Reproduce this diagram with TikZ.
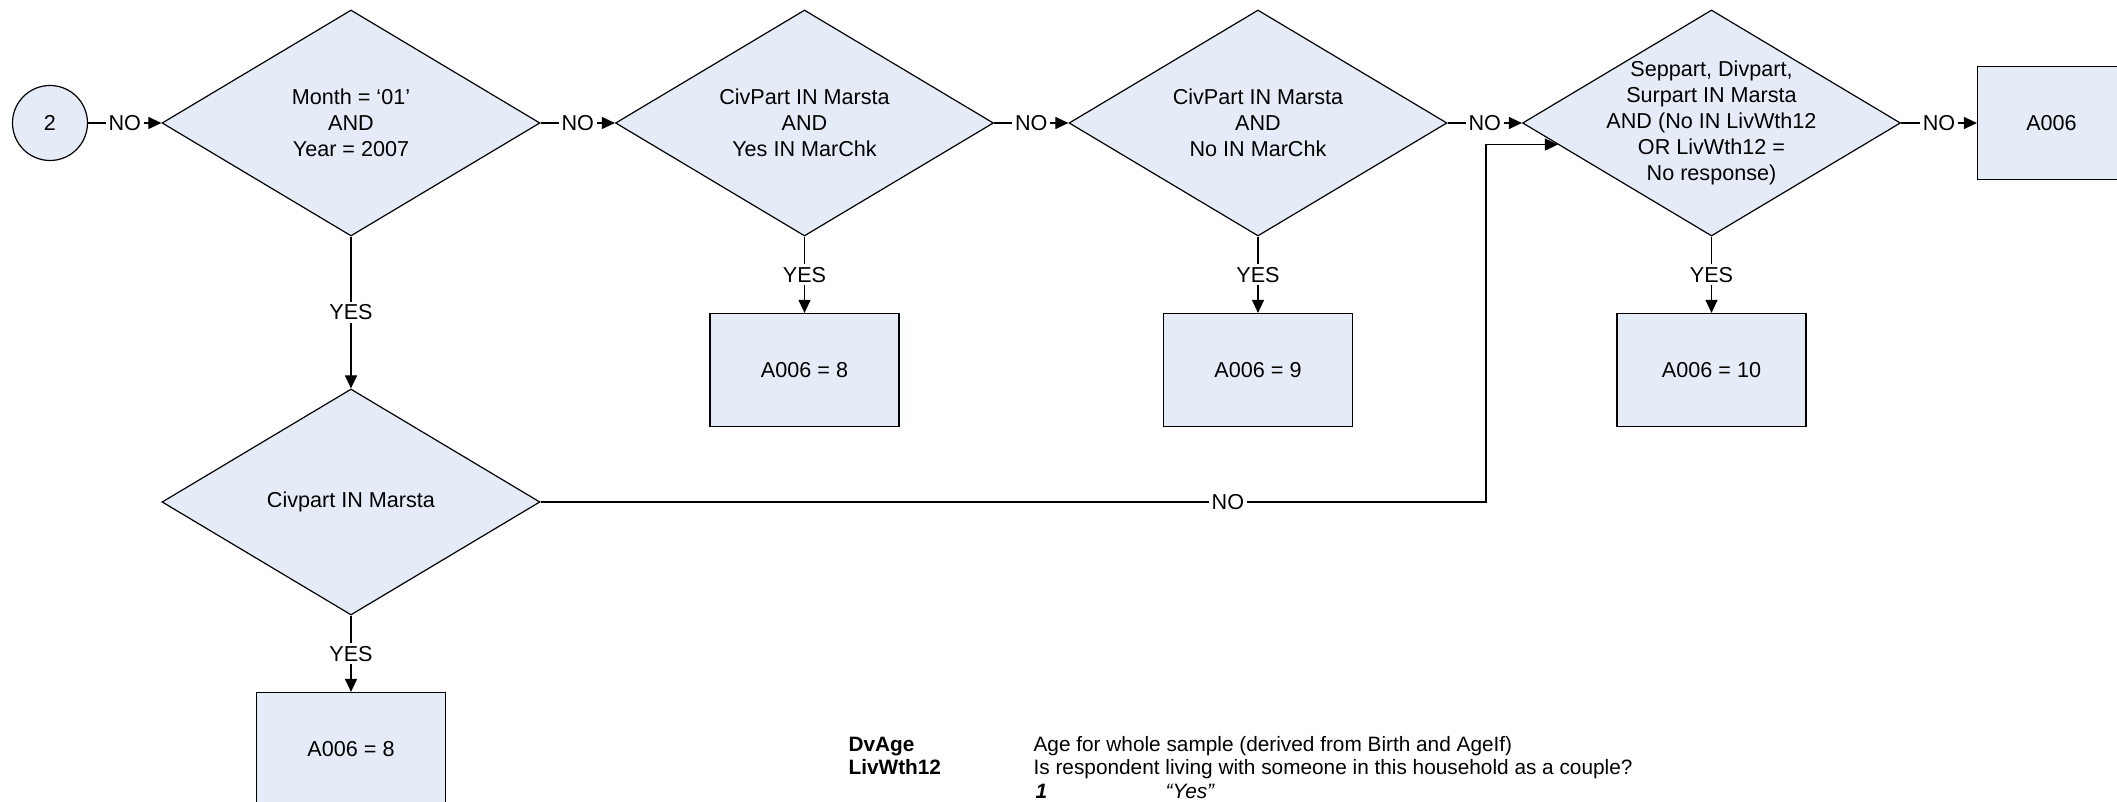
\documentclass[tikz,border=0pt]{standalone}
\usepackage{fontspec}
\setmainfont{Liberation Sans}
\usetikzlibrary{shapes.geometric,positioning,arrows.meta}

\definecolor{qfill}{RGB}{230,236,247}

\begin{document}
\begin{tikzpicture}[x=0.5pt, y=-0.5pt, line width=0.6pt,
    >={Triangle[length=6.5pt, width=6pt]},
    node distance=226.75pt, on grid,
    font=\fontsize{10.8}{13}\selectfont,
    decision/.style={diamond, draw, fill=qfill, minimum width=189pt, minimum height=113pt, inner sep=0pt},
    outcome/.style={rectangle, draw, fill=qfill, minimum width=94.5pt, minimum height=56.5pt},
    start/.style={circle, draw, fill=qfill, minimum size=37.5pt, inner sep=0pt},
    lbl/.style={fill=white, inner sep=1.5pt},
    key/.style={anchor=base west, inner sep=0pt, font=\fontsize{10.4}{12}\selectfont}]
  \useasboundingbox (0,0) rectangle (2117,802);

  \node[start] (c2) at (50,123) {2};
  \node[decision, right=150.5pt of c2] (d1) {};
  \node[decision, right=of d1] (d2) {};
  \node[decision, right=of d2] (d3) {};
  \node[decision, right=of d3] (d4) {};
  \node[outcome, minimum width=74pt, right=170pt of d4] (a006) {A006};
  \node[decision, below=189.5pt of d1] (d5) {};

  % question texts
  \node[align=center] at (d1) {Month = ‘01’\\AND\\Year = 2007};
  \node[align=center] at (d2) {CivPart IN Marsta\\AND\\Yes IN MarChk};
  \node[align=center] at (d3) {CivPart IN Marsta\\AND\\No IN MarChk};
  \node[align=center] at (d4) {Seppart, Divpart,\\Surpart IN Marsta\\AND (No IN LivWth12\\OR LivWth12 =\\No response)};
  \node at (d5) {Civpart IN Marsta};

  % outcomes
  \node[outcome, below=123.5pt of d2] (v8) {A006 = 8};
  \node[outcome, below=123.5pt of d3] (v9) {A006 = 9};
  \node[outcome, below=123.5pt of d4] (v10) {A006 = 10};
  \node[outcome, below=123.5pt of d5] (v8b) {A006 = 8};

  % NO chain
  \draw[->] (c2) -- node[lbl] {NO} (d1);
  \draw[->] (d1) -- node[lbl] {NO} (d2);
  \draw[->] (d2) -- node[lbl] {NO} (d3);
  \draw[->] (d3) -- node[lbl] {NO} (d4);
  \draw[->] (d4) -- node[lbl] {NO} (a006);

  % YES branches
  \draw[->] (d1) -- node[lbl] {YES} (d5);
  \draw[->] (d2) -- node[lbl] {YES} (v8);
  \draw[->] (d3) -- node[lbl] {YES} (v9);
  \draw[->] (d4) -- node[lbl] {YES} (v10);
  \draw[->] (d5) -- node[lbl] {YES} (v8b);

  % Civpart NO back into d4
  \coordinate (bend) at (1486,502);
  \draw[->] (d5.east) -- node[lbl, pos=0.727] {NO} (bend) |- (d4.188.5);

  % variable key
  \node[key, font=\fontsize{10.4}{12}\selectfont\bfseries] (kdv) at (848,751) {DvAge};
  \node[key] (kdvt) at (1033,751) {Age for whole sample (derived from Birth and AgeIf)};
  \node[key, font=\fontsize{10.4}{12}\selectfont\bfseries] (kliv) at (848,774.5) {LivWth12};
  \node[key] (klivt) at (1033,774.5) {Is respondent living with someone in this household as a couple?};
  \node[key, font=\fontsize{10.4}{12}\selectfont\bfseries\itshape] (kone) at (1035,798) {1};
  \node[key, font=\fontsize{10.4}{12}\selectfont\itshape] (kyes) at (1165,798) {“Yes”};
\end{tikzpicture}
\end{document}
